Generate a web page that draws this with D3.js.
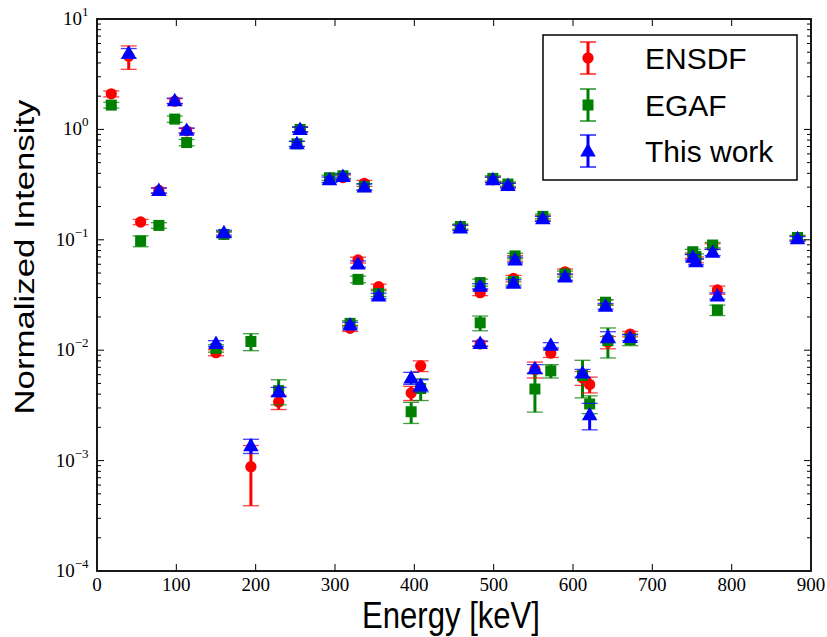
<!DOCTYPE html>
<html>
<head>
<meta charset="utf-8">
<script src="https://cdn.jsdelivr.net/npm/d3@7"></script>
<style>
  html, body { margin: 0; padding: 0; background: #fff; }
  svg { display: block; }
</style>
</head>
<body>
<div id="chart"></div>
<script>
// ---------------- data ----------------
const energies = [18, 40, 55, 78, 98, 113, 150, 160, 194, 229, 252, 256, 293, 310, 319, 329, 337, 355, 396, 408, 458, 483, 483, 499, 518, 525, 527, 552, 562, 572, 590, 612, 621, 641, 644, 672, 751, 755, 776, 782, 883];

const ensdfValues = [2.1, 4.6, 0.145, 0.28, 1.8, 0.97, 0.0095, 0.112, 0.00088, 0.0034, null, 1.0, null, 0.366, 0.0158, 0.0656, 0.325, 0.0376, 0.0041, 0.0072, 0.13, 0.0332, 0.0114, 0.35, 0.31, 0.0446, 0.068, 0.0067, 0.157, 0.0094, 0.0513, 0.0056, 0.0049, 0.027, 0.0118, 0.014, 0.072, 0.066, 0.087, 0.0351, 0.103];
const ensdfErrors = [0.13, 1.1, 0.008, 0.015, 0.1, 0.05, 0.0006, 0.006, 0.00049, 0.0005, null, 0.05, null, 0.02, 0.001, 0.004, 0.02, 0.002, 0.0006, 0.0008, 0.007, 0.002, 0.0006, 0.02, 0.015, 0.003, 0.004, 0.0011, 0.008, 0.0008, 0.003, 0.0008, 0.0008, 0.0015, 0.0015, 0.0008, 0.004, 0.004, 0.005, 0.003, 0.005];

const egafValues = [1.66, null, 0.0975, 0.135, 1.24, 0.76, 0.0104, 0.112, 0.012, 0.0043, 0.74, 1.0, 0.365, 0.38, 0.0175, 0.0438, 0.303, 0.0326, 0.00277, 0.0045, 0.132, 0.041, 0.0177, 0.36, 0.32, 0.042, 0.0715, 0.00445, 0.163, 0.0065, 0.049, 0.0059, 0.00326, 0.0272, 0.0122, 0.0125, 0.078, 0.0705, 0.0897, 0.0231, 0.105];
const egafErrors = [0.1, null, 0.011, 0.008, 0.08, 0.05, 0.0008, 0.006, 0.0021, 0.0011, 0.04, 0.05, 0.02, 0.02, 0.001, 0.003, 0.02, 0.002, 0.0006, 0.001, 0.007, 0.003, 0.0027, 0.02, 0.015, 0.003, 0.004, 0.0017, 0.008, 0.0009, 0.003, 0.0022, 0.0006, 0.0015, 0.0037, 0.0015, 0.004, 0.004, 0.005, 0.0025, 0.005];

const thisWorkValues = [null, 4.9, null, 0.28, 1.82, 0.98, 0.0115, 0.116, 0.00136, 0.0042, 0.74, 1.0, 0.35, 0.375, 0.0169, 0.0604, 0.30, 0.031, 0.0056, 0.0048, 0.128, 0.038, 0.0115, 0.35, 0.31, 0.0405, 0.0657, 0.0068, 0.155, 0.0111, 0.046, 0.0062, 0.0026, 0.025, 0.0132, 0.013, 0.0695, 0.0634, 0.077, 0.031, 0.102];
const thisWorkErrors = [null, 0.5, null, 0.015, 0.1, 0.05, 0.0007, 0.006, 0.0002, 0.0004, 0.04, 0.05, 0.02, 0.02, 0.001, 0.004, 0.02, 0.0018, 0.0007, 0.0006, 0.007, 0.002, 0.0006, 0.02, 0.015, 0.003, 0.004, 0.0006, 0.008, 0.0006, 0.003, 0.0005, 0.0007, 0.0015, 0.0015, 0.0008, 0.004, 0.004, 0.005, 0.002, 0.005];

const seriesNames = ["ENSDF", "EGAF", "This work"];
const seriesColors = ["#ff0000", "#008000", "#0000ff"];
const seriesShapes = ["circle", "square", "triangle"];

const xTicks = [0, 100, 200, 300, 400, 500, 600, 700, 800, 900];
const yTickExponents = [1, 0, -1, -2, -3, -4];

const xLabel = "Energy [keV]";
const yLabel = "Normalized Intensity";

// ---------------- layout ----------------
const W = 827, H = 637;
const pLeft = 97, pRight = 811, pTop = 19, pBottom = 571;

const svg = d3.select("#chart").append("svg")
  .attr("width", W).attr("height", H);

const x = d3.scaleLinear().domain([0, 900]).range([pLeft, pRight]);
const y = d3.scaleLog().domain([1e-4, 10]).range([pBottom, pTop]);

const allSeries = [
  { values: ensdfValues, errors: ensdfErrors },
  { values: egafValues, errors: egafErrors },
  { values: thisWorkValues, errors: thisWorkErrors }
].map((s, i) => ({
  name: seriesNames[i], color: seriesColors[i], shape: seriesShapes[i],
  points: energies.map((e, j) => ({ e, v: s.values[j], err: s.errors[j] }))
    .filter(p => p.v != null)
}));

const symSize = { circle: 100, square: 121, triangle: 105 };
function symbolFor(shape) {
  const t = shape === "circle" ? d3.symbolCircle : shape === "square" ? d3.symbolSquare : d3.symbolTriangle;
  return d3.symbol().type(t).size(symSize[shape])();
}

const plot = svg.append("g");
const capHalf = 8;
const lowY = p => y(Math.max(p.v - p.err, 1.1e-4));
const highY = p => y(p.v + p.err);

// error bars (all series first, like matplotlib collections)
allSeries.forEach(s => {
  plot.append("g").selectAll("line").data(s.points.filter(p => p.err != null)).join("line")
    .attr("x1", p => x(p.e)).attr("x2", p => x(p.e))
    .attr("y1", lowY).attr("y2", highY)
    .attr("stroke", s.color).attr("stroke-width", 3);
});

// markers + caps per series
allSeries.forEach(s => {
  const g = plot.append("g");
  g.selectAll("path").data(s.points).join("path")
    .attr("d", symbolFor(s.shape))
    .attr("transform", p => `translate(${x(p.e)},${y(p.v) + (s.shape === "triangle" ? 1 : 0)})`)
    .attr("fill", s.color);
  const withErr = s.points.filter(p => p.err != null);
  [lowY, highY].forEach(fy => {
    g.append("g").selectAll("line").data(withErr).join("line")
      .attr("x1", p => x(p.e) - capHalf).attr("x2", p => x(p.e) + capHalf)
      .attr("y1", fy).attr("y2", fy)
      .attr("stroke", s.color).attr("stroke-width", 1.3).attr("stroke-opacity", 0.75);
  });
});

// ---------------- axes frame & ticks ----------------
const axisG = svg.append("g");
axisG.append("rect")
  .attr("x", pLeft).attr("y", pTop).attr("width", pRight - pLeft).attr("height", pBottom - pTop)
  .attr("fill", "none").attr("stroke", "#000").attr("stroke-width", 1.8);

const major = 7, minor = 4;
xTicks.forEach(t => {
  const px = x(t);
  if (t !== 0 && t !== 900) {
    axisG.append("line").attr("x1", px).attr("x2", px).attr("y1", pBottom).attr("y2", pBottom - major)
      .attr("stroke", "#000").attr("stroke-width", 1);
    axisG.append("line").attr("x1", px).attr("x2", px).attr("y1", pTop).attr("y2", pTop + major)
      .attr("stroke", "#000").attr("stroke-width", 1);
  }
  axisG.append("text").attr("x", px).attr("y", 591)
    .attr("text-anchor", "middle")
    .attr("font-family", "'Liberation Serif', 'DejaVu Serif', serif")
    .attr("font-size", 19).attr("fill", "#000")
    .text(String(t));
});

for (let e = -4; e <= 1; e++) {
  const py = y(Math.pow(10, e));
  if (e !== -4 && e !== 1) {
    [[pLeft, pLeft + major], [pRight, pRight - major]].forEach(([a, b]) =>
      axisG.append("line").attr("x1", a).attr("x2", b).attr("y1", py).attr("y2", py)
        .attr("stroke", "#000").attr("stroke-width", 1));
  }
  if (e < 1) {
    for (let m = 2; m <= 9; m++) {
      const pm = y(m * Math.pow(10, e));
      [[pLeft, pLeft + minor], [pRight, pRight - minor]].forEach(([a, b]) =>
        axisG.append("line").attr("x1", a).attr("x2", b).attr("y1", pm).attr("y2", pm)
          .attr("stroke", "#000").attr("stroke-width", 1));
    }
  }
}
yTickExponents.forEach(e => {
  const py = y(Math.pow(10, e));
  const t = axisG.append("text")
    .attr("x", 88.5).attr("y", py + 6)
    .attr("text-anchor", "end")
    .attr("font-family", "'Liberation Serif', 'DejaVu Serif', serif")
    .attr("font-size", 19).attr("fill", "#000");
  t.append("tspan").text("10");
  t.append("tspan").attr("dy", -9).attr("font-size", 13)
    .text(e < 0 ? "\u2212" + Math.abs(e) : String(e));
});

// axis labels
svg.append("text")
  .attr("x", 451).attr("y", 628)
  .attr("text-anchor", "middle")
  .attr("font-family", "'Liberation Sans', Arial, sans-serif")
  .attr("font-size", 36)
  .attr("textLength", 178).attr("lengthAdjust", "spacingAndGlyphs")
  .attr("fill", "#000")
  .text(xLabel);

svg.append("text")
  .attr("transform", "translate(34,257) rotate(-90)")
  .attr("text-anchor", "middle")
  .attr("font-family", "'Liberation Sans', Arial, sans-serif")
  .attr("font-size", 27)
  .attr("textLength", 315).attr("lengthAdjust", "spacingAndGlyphs")
  .attr("fill", "#000")
  .text(yLabel);

// ---------------- legend ----------------
const lg = svg.append("g");
lg.append("rect").attr("x", 543).attr("y", 35).attr("width", 254).attr("height", 145)
  .attr("fill", "#fff").attr("stroke", "#000").attr("stroke-width", 1.5);
const legendY = [58, 105, 151];
allSeries.forEach((s, i) => {
  const cy = legendY[i], cx = 588;
  lg.append("line").attr("x1", cx).attr("x2", cx).attr("y1", cy - 16).attr("y2", cy + 16)
    .attr("stroke", s.color).attr("stroke-width", 3);
  lg.append("path").attr("d", symbolFor(s.shape))
    .attr("transform", `translate(${cx},${cy + (s.shape === "triangle" ? 1 : 0)})`)
    .attr("fill", s.color);
  [cy - 16, cy + 16].forEach(yy =>
    lg.append("line").attr("x1", cx - capHalf).attr("x2", cx + capHalf).attr("y1", yy).attr("y2", yy)
      .attr("stroke", s.color).attr("stroke-width", 1.3));
  lg.append("text").attr("x", 645).attr("y", cy + 11)
    .attr("font-family", "'Liberation Sans', Arial, sans-serif")
    .attr("font-size", 30).attr("fill", "#000")
    .text(s.name);
});
</script>
</body>
</html>
